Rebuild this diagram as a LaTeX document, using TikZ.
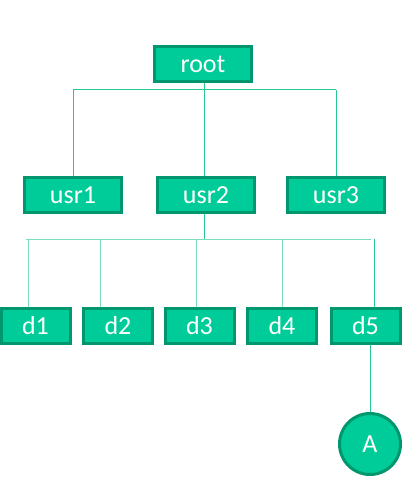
\documentclass[tikz,border=0pt]{standalone}
\usepackage{fontspec}
\setmainfont{Carlito}
\usetikzlibrary{positioning}
\definecolor{boxfill}{RGB}{0,204,153}
\definecolor{boxline}{RGB}{0,150,110}
\definecolor{linktop}{RGB}{40,200,150}
\definecolor{linklow}{RGB}{125,220,185}

\begin{document}
\begin{tikzpicture}[
    x=1pt, y=-1pt,
    every node/.style={font=\fontsize{26}{30}\selectfont, text=white},
    dirbox/.style={rectangle, fill=boxfill, draw=boxline, line width=3pt, minimum width=97pt, minimum height=35pt, inner sep=0pt},
    leafbox/.style={dirbox, minimum width=69pt},
    filenode/.style={circle, fill=boxfill, draw=boxline, line width=3pt, minimum size=61pt, inner sep=0pt},
    link/.style={draw=linktop, line width=1pt},
    sublink/.style={draw=linklow, line width=1pt}
]
   \useasboundingbox (0,0) rectangle (408,486);

   % Nodes
   \node[dirbox] (root) at (203,64) {root};
   \node[dirbox] (usr1) at (73,195) {usr1};
   \node[dirbox] (usr2) at (206,195) {usr2};
   \node[dirbox] (usr3) at (336,195) {usr3};

   \node[leafbox] (d1) at (35.5,326) {d1};
   \node[leafbox] (d2) at (118,326) {d2};
   \node[leafbox] (d3) at (199.5,326) {d3};
   \node[leafbox] (d4) at (282,326) {d4};
   \node[leafbox] (d5) at (365.5,326) {d5};

   \node[filenode] (fa) at (370,444) {A};

   % Bus coordinates
   \coordinate (ta) at (73,90);
   \coordinate (tb) at (204,90);
   \coordinate (tc) at (336,90);
   \coordinate (ba) at (26,239);
   \coordinate (bb) at (204,239);
   \coordinate (bz) at (371,239);
   \coordinate (b1) at (28,239);
   \coordinate (b2) at (100,239);
   \coordinate (b3) at (196,239);
   \coordinate (b4) at (282,239);
   \coordinate (b5) at (374,239);

   % Connections
   \path[link] (root.south -| tb) -- (tb)
               (ta) -- (tc)
               (ta) -- (ta |- usr1.north)
               (tb) -- (tb |- usr2.north)
               (tc) -- (tc |- usr3.north);
   \path[link] (usr2.south -| bb) -- (bb);
   \path[sublink] (ba) -- (bz)
               (b1) -- (b1 |- d1.north)
               (b2) -- (b2 |- d2.north)
               (b3) -- (b3 |- d3.north)
               (b4) -- (b4 |- d4.north);
   \path[link] (b5) -- (b5 |- d5.north);
   \path[link] (d5.south -| fa) -- (fa.north);
\end{tikzpicture}
\end{document}
